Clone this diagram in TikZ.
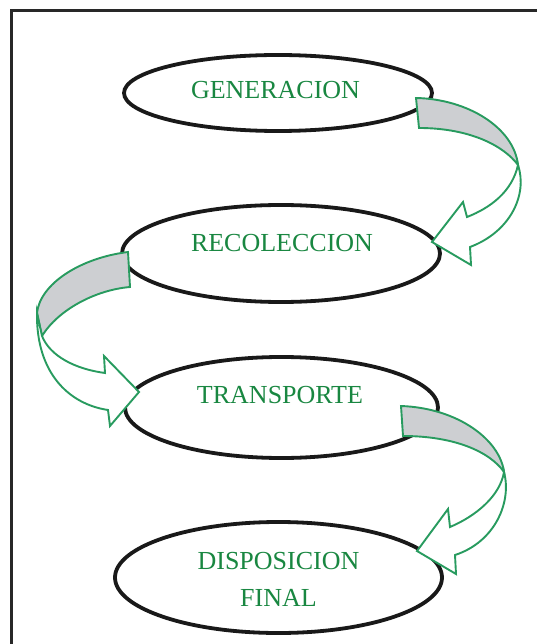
\documentclass[tikz,border=0pt]{standalone}
\usepackage{fontspec}
\setmainfont{Liberation Serif}
\definecolor{txtgreen}{RGB}{25,135,65}
\definecolor{arrgreen}{RGB}{40,155,95}
\definecolor{ribgray}{RGB}{205,207,210}
\definecolor{framegray}{RGB}{40,40,40}
\tikzset{
  elps/.style={ellipse, draw=black!90, line width=3.8pt, fill=white, inner sep=0pt},
  lbl/.style={text=txtgreen, font=\fontsize{26}{37}\selectfont, align=center, inner sep=0pt},
  ribback/.style={draw=arrgreen, fill=ribgray, line width=1.9pt, line join=miter},
  ribfront/.style={draw=arrgreen, fill=white, line width=1.9pt, line join=miter},
}
\usetikzlibrary{shapes.geometric}
\begin{document}
\begin{tikzpicture}[x=1pt,y=-1pt]
\useasboundingbox (0,0) rectangle (537,644);
% frame
\draw[framegray, line width=3pt] (11,650) -- (11,11) -- (545,11);
% ellipses
\node[elps, minimum width=308pt, minimum height=76pt] (gen) at (278,93) {};
\node[elps, minimum width=318pt, minimum height=97pt] (rec) at (281,253.5) {};
\node[elps, minimum width=313pt, minimum height=101pt] (tra) at (281.5,407.5) {};
\node[elps, minimum width=327pt, minimum height=111pt] (dis) at (278.5,577.5) {};
% labels
\node[lbl] (tgen) at (275.5,90) {GENERACION};
\node[lbl] (trec) at (282,243) {RECOLECCION};
\node[lbl] (ttra) at (280,395) {TRANSPORTE};
\node[lbl] (tdis) at (278.5,579) {DISPOSICION\\FINAL};
% arrow 1: GENERACION -> RECOLECCION
\coordinate (a1t) at (518,165);
\draw[ribback] (416,98) .. controls (468,99) and (514,128) .. (a1t)
  .. controls (504,146) and (470,128) .. (419,128) -- cycle;
\draw[ribfront] (a1t) .. controls (528,195) and (510,232) .. (470,247)
  -- (471,265) -- (432,242) -- (463,202) -- (467,217)
  .. controls (490,208) and (512,192) .. (a1t) -- cycle;
% arrow 2: RECOLECCION -> TRANSPORTE
\draw[ribback] (128,252) .. controls (80,258) and (40,284) .. (37,313)
  -- (42,336) .. controls (58,310) and (95,290) .. (130,287) -- cycle;
\draw[ribfront] (37,313) .. controls (36,372) and (68,404) .. (108,410)
  -- (110,426) -- (139,392) -- (104,356) -- (105,373)
  .. controls (75,369) and (50,356) .. (42,336) -- cycle;
% arrow 3: TRANSPORTE -> DISPOSICION FINAL
\coordinate (a3t) at (504,472);
\draw[ribback] (401,406) .. controls (458,408) and (500,440) .. (a3t)
  .. controls (490,452) and (455,436) .. (403,436) -- cycle;
\draw[ribfront] (a3t) .. controls (512,502) and (495,542) .. (455,555)
  -- (456,574) -- (417,551) -- (448,509) -- (450,527)
  .. controls (476,516) and (500,496) .. (a3t) -- cycle;
\end{tikzpicture}
\end{document}
